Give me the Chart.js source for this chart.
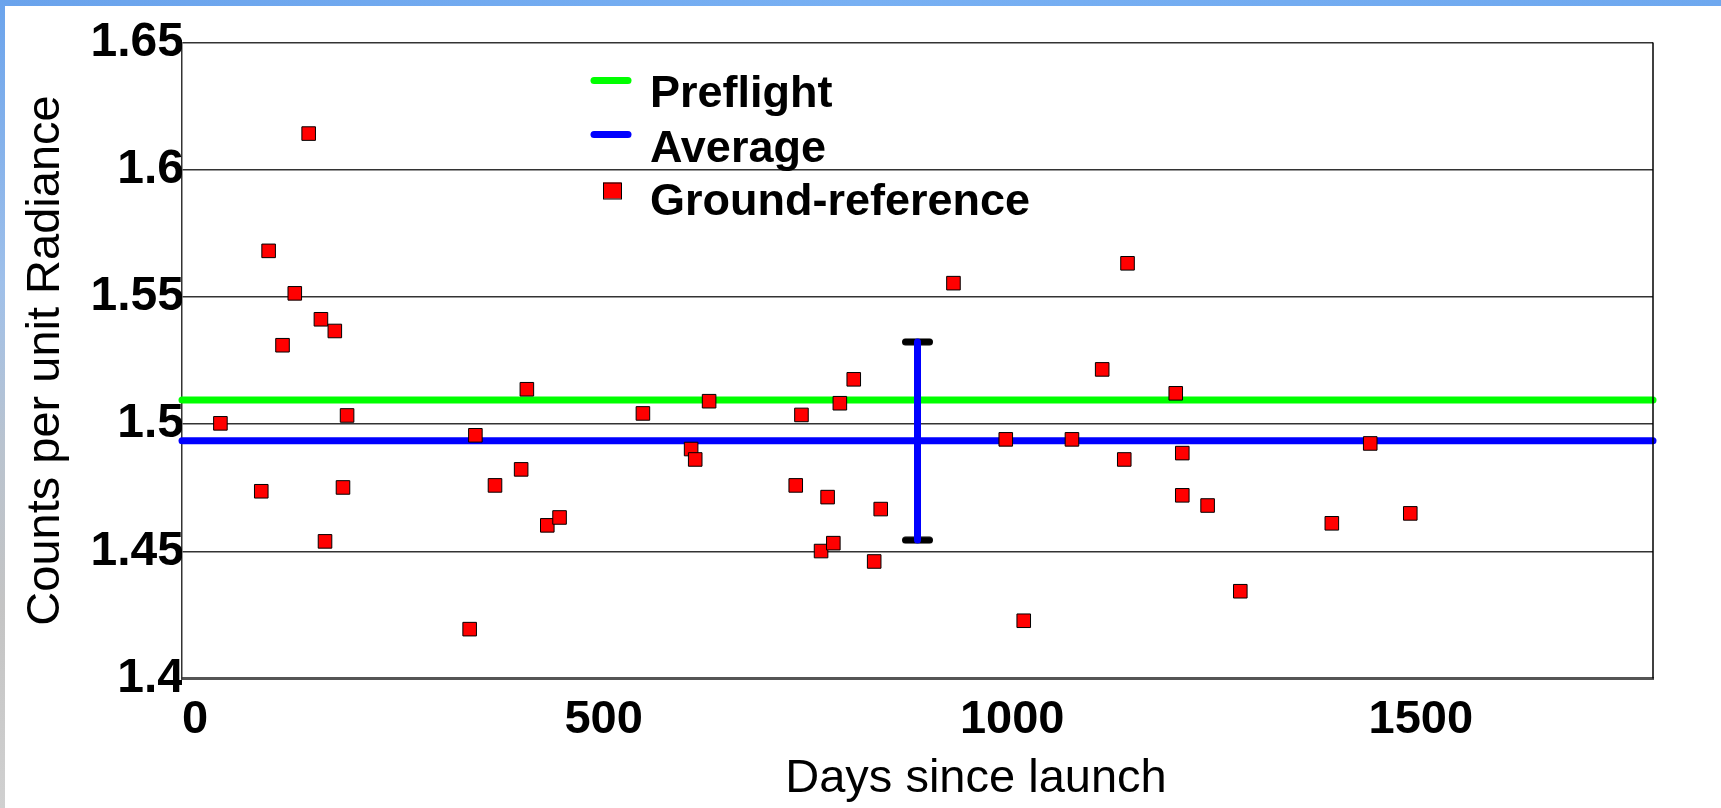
<!DOCTYPE html>
<html>
<head>
<meta charset="utf-8">
<title>Counts per unit Radiance</title>
<script src="https://cdn.jsdelivr.net/npm/chart.js@4.4.0/dist/chart.umd.min.js"></script>
<style>
  html, body { margin: 0; padding: 0; background: #fff; }
  #wrap { position: relative; width: 1721px; height: 808px; overflow: hidden; }
  #topband { position: absolute; left: 0; top: 0; width: 1721px; height: 6px;
    background: linear-gradient(to right, #6aa3ec, #78b0f3 50%, #6ea8ef); z-index: 2; }
  #leftband { position: absolute; left: 0; top: 0; width: 5px; height: 808px;
    background: linear-gradient(to bottom, #6aa3ec, #9fc0ea 35%, #b9c3cf 55%, #c4c4c4 75%, #d0d0d0); z-index: 2; }
  canvas { position: absolute; left: 0; top: 0; }
</style>
</head>
<body>
<div id="wrap">
  <canvas id="myChart" width="1721" height="808"></canvas>
  <div id="topband"></div>
  <div id="leftband"></div>
</div>
<script>
// ground-reference points
const days = [47, 97, 106, 123, 138, 155, 170, 175, 187, 197, 202,
  352, 359, 383, 415, 422, 447, 462, 564, 623, 628, 645,
  751, 758, 782, 790, 797, 805, 822, 847, 855, 944,
  1008, 1030, 1089, 1126, 1153, 1157, 1216, 1224, 1224, 1255, 1295,
  1407, 1454, 1503];
const counts = [1.5003, 1.4736, 1.5681, 1.5310, 1.5514, 1.6142, 1.5412, 1.4539, 1.5366, 1.4751, 1.5034,
  1.4194, 1.4956, 1.4759, 1.4822, 1.5137, 1.4602, 1.4633, 1.5042, 1.4902, 1.4861, 1.5090,
  1.4759, 1.5036, 1.4501, 1.4713, 1.4532, 1.5082, 1.5176, 1.4460, 1.4666, 1.5554,
  1.4940, 1.4227, 1.4940, 1.5215, 1.4861, 1.5632, 1.5121, 1.4886, 1.4720, 1.4680, 1.4343,
  1.4610, 1.4924, 1.4649];

const preflight = 1.5095;
const average = 1.4935;
const errDay = 900;
const errLow = 1.4544;
const errHigh = 1.5323;

const xRange = [0, 1800];
const yRange = [1.4, 1.65];
const xTicks = [0, 500, 1000, 1500];
const yTicks = [1.4, 1.45, 1.5, 1.55, 1.6, 1.65];

const legendLabels = ['Preflight', 'Average', 'Ground-reference'];
const xTitle = 'Days since launch';
const yTitle = 'Counts per unit Radiance';

const FONT = '"Liberation Sans", Arial, sans-serif';
const GREEN = '#00ff00';
const BLUE = '#0000ff';
const RED = '#ff0000';

// rounded black bar used for the error bar caps
function capImage() {
  const c = document.createElement('canvas');
  c.width = 31; c.height = 8;
  const g = c.getContext('2d');
  g.strokeStyle = '#000';
  g.lineWidth = 7;
  g.lineCap = 'round';
  g.beginPath();
  g.moveTo(3.5, 4);
  g.lineTo(27.5, 4);
  g.stroke();
  return c;
}

const decor = {
  id: 'decor',
  afterDraw(chart) {
    const ctx = chart.ctx;
    const a = chart.chartArea;
    ctx.save();

    // right frame line
    ctx.strokeStyle = '#000';
    ctx.lineWidth = 1.5;
    ctx.beginPath();
    ctx.moveTo(a.right, a.top);
    ctx.lineTo(a.right, a.bottom);
    ctx.stroke();

    // legend
    const lx = a.left + 412, tx = a.left + 468;
    ctx.lineCap = 'round';
    ctx.lineWidth = 7;
    ctx.strokeStyle = GREEN;
    ctx.beginPath(); ctx.moveTo(lx, a.top + 38); ctx.lineTo(lx + 34, a.top + 38); ctx.stroke();
    ctx.strokeStyle = BLUE;
    ctx.beginPath(); ctx.moveTo(lx, a.top + 92); ctx.lineTo(lx + 34, a.top + 92); ctx.stroke();
    ctx.fillStyle = RED;
    ctx.fillRect(lx + 9, a.top + 140, 18, 16);
    ctx.lineWidth = 1;
    ctx.strokeStyle = '#000';
    ctx.strokeRect(lx + 9.5, a.top + 140.5, 18, 16);

    ctx.fillStyle = '#000';
    ctx.font = 'bold 45px ' + FONT;
    ctx.textAlign = 'left';
    ctx.textBaseline = 'alphabetic';
    ctx.fillText(legendLabels[0], tx, a.top + 64.5);
    ctx.fillText(legendLabels[1], tx, a.top + 119);
    ctx.fillText(legendLabels[2], tx, a.top + 172.5);

    // x axis title
    ctx.font = '47px ' + FONT;
    ctx.textAlign = 'center';
    ctx.fillText(xTitle, 976, 792);
    ctx.restore();
  }
};

const ctx = document.getElementById('myChart').getContext('2d');
const myChart = new Chart(ctx, {
  type: 'scatter',
  data: {
    datasets: [
      {
        label: legendLabels[2],
        data: days.map((d, i) => ({ x: d, y: counts[i] })),
        pointStyle: 'rect',
        pointRadius: 9.6,
        backgroundColor: RED,
        borderColor: '#000',
        borderWidth: 1,
        order: 0
      },
      {
        type: 'line',
        label: 'error',
        data: [{ x: errDay, y: errLow }, { x: errDay, y: errHigh }],
        borderColor: BLUE,
        borderWidth: 7,
        borderCapStyle: 'round',
        pointRadius: 0,
        clip: false,
        order: 1
      },
      {
        label: 'caps',
        data: [{ x: errDay, y: errLow }, { x: errDay, y: errHigh }],
        pointStyle: capImage(),
        pointRadius: 5,
        order: 2
      },
      {
        type: 'line',
        label: legendLabels[1],
        data: [{ x: xRange[0], y: average }, { x: xRange[1], y: average }],
        borderColor: BLUE,
        borderWidth: 7,
        borderCapStyle: 'round',
        pointRadius: 0,
        clip: false,
        order: 3
      },
      {
        type: 'line',
        label: legendLabels[0],
        data: [{ x: xRange[0], y: preflight }, { x: xRange[1], y: preflight }],
        borderColor: GREEN,
        borderWidth: 7,
        borderCapStyle: 'round',
        pointRadius: 0,
        clip: false,
        order: 4
      }
    ]
  },
  options: {
    responsive: false,
    animation: false,
    layout: { padding: { top: 42.5, right: 68, bottom: 0, left: 0 } },
    plugins: {
      legend: { display: false },
      tooltip: { enabled: false }
    },
    scales: {
      x: {
        type: 'linear',
        min: xRange[0],
        max: xRange[1],
        afterFit: s => { s.height = 129.5; },
        afterBuildTicks: s => { s.ticks = xTicks.map(v => ({ value: v })); },
        ticks: {
          autoSkip: false,
          color: '#000',
          padding: 13,
          labelOffset: 13,
          maxRotation: 0,
          callback: v => String(v),
          font: { family: FONT, size: 47, weight: 'bold' }
        },
        grid: { display: true, color: 'rgba(0,0,0,0)', drawTicks: false },
        border: { display: true, color: '#555', width: 3 }
      },
      y: {
        type: 'linear',
        min: yRange[0],
        max: yRange[1],
        afterFit: s => { s.width = 182; },
        afterBuildTicks: s => { s.ticks = yTicks.map(v => ({ value: v })); },
        ticks: {
          autoSkip: false,
          color: '#000',
          padding: -2,
          callback: v => String(Math.round(v * 100) / 100),
          font: { family: FONT, size: 48, weight: 'bold' }
        },
        grid: { color: '#333', lineWidth: 1.5, drawTicks: false },
        border: { display: true, color: '#333', width: 1.5 },
        title: {
          display: true,
          text: yTitle,
          color: '#000',
          padding: { top: 18, bottom: 0 },
          font: { family: FONT, size: 47, weight: 'normal' }
        }
      }
    }
  },
  plugins: [decor]
});
</script>
</body>
</html>
